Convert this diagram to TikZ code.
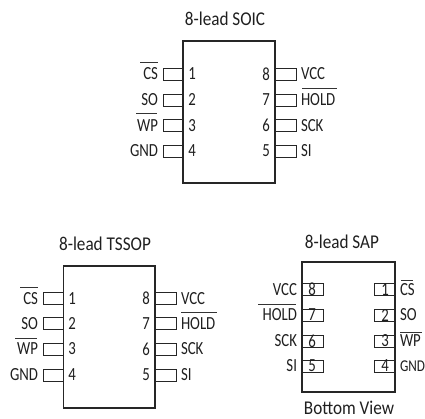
\documentclass[tikz,border=0pt]{standalone}
\usepackage{fontspec}
\setmainfont[FakeStretch=0.88]{Carlito}
\newfontfamily\lblfont[FakeStretch=0.8]{Carlito}
\tikzset{
  every node/.style={inner sep=0pt,outer sep=0pt,text=black!88},
  txt/.style={font=\lblfont\fontsize{18.5}{18.5}\selectfont},
  ttl/.style={font=\fontsize{19.5}{19.5}\selectfont,anchor=center},
  lblR/.style={txt,anchor=east},
  lblL/.style={txt,anchor=west},
  num/.style={txt,anchor=center},
  body/.style={draw=black!85,line width=1.7pt},
  pin/.style={draw=black!85,line width=0.8pt},
  bar/.style={draw=black!80,line width=0.8pt}
}
\begin{document}
\begin{tikzpicture}[x=1pt,y=-1pt]
\path[use as bounding box] (0,0) rectangle (425,419);

% ---------- SOIC ----------
\node[ttl] (soicT) at (225,19) {8-lead SOIC};
\foreach \yy/\n/\l/\m/\r/\k in {74/1/CS/266/VCC/8,100/2/SO/266/HOLD/7,125.5/3/WP/266/SCK/6,151/4/GND/266/SI/5}{
  \draw[pin] (183,\yy-6) -- (163,\yy-6) -- (163,\yy+6) -- (183,\yy+6);
  \draw[pin] (275,\yy-6) -- (296,\yy-6) -- (296,\yy+6) -- (275,\yy+6);
  \node[lblR] (soicL\n) at (158,\yy) {\l};
  \node[num] (soicN\n) at (192,\yy) {\n};
  \node[num] (soicN\k) at (\m,\yy) {\k};
  \node[lblL] (soicR\k) at (301,\yy) {\r};
}
\draw[body] (183,41) rectangle (275,183);
\draw[bar] (140,62.7) -- (158,62.7);
\draw[bar] (136,113.7) -- (157,113.7);
\draw[bar] (302,88.7) -- (337,88.7);

% ---------- TSSOP ----------
\node[ttl] (tssopT) at (105,244) {8-lead TSSOP};
\foreach \yy/\n/\l/\m/\r/\k in {298.5/1/CS/146/VCC/8,323.5/2/SO/146/HOLD/7,349/3/WP/146/SCK/6,375/4/GND/146/SI/5}{
  \draw[pin] (63.5,\yy-6) -- (43,\yy-6) -- (43,\yy+6) -- (63.5,\yy+6);
  \draw[pin] (155,\yy-6) -- (176,\yy-6) -- (176,\yy+6) -- (155,\yy+6);
  \node[lblR] (tssopL\n) at (38,\yy) {\l};
  \node[num] (tssopN\n) at (72,\yy) {\n};
  \node[num] (tssopN\k) at (\m,\yy) {\k};
  \node[lblL] (tssopR\k) at (181,\yy) {\r};
}
\draw[body] (63.5,266) rectangle (155,408);
\draw[bar] (20,287) -- (38,287);
\draw[bar] (15,338) -- (37,338);
\draw[bar] (181,312) -- (217,312);

% ---------- SAP ----------
\node[ttl] (sapT) at (342,242) {8-lead SAP};
\node[ttl] (sapB) at (349,408) {Bottom View};
\foreach \yy/\n/\l/\r/\k/\fs in {289.5/8/VCC/CS/1/18.5,315/7/HOLD/SO/2/18.5,341/6/SCK/WP/3/18.5,366/5/SI/GND/4/16.5}{
  \draw[pin] (302,\yy-6) -- (323,\yy-6) -- (323,\yy+6) -- (302,\yy+6);
  \draw[pin] (395,\yy-6) -- (374,\yy-6) -- (374,\yy+6) -- (395,\yy+6);
  \node[lblR] (sapL\n) at (297,\yy) {\l};
  \node[num] (sapN\n) at (312,\yy) {\n};
  \node[num] (sapN\k) at (385,\yy) {\k};
  \node[lblL,font=\lblfont\fontsize{\fs}{\fs}\selectfont] (sapR\k) at (400,\yy) {\r};
}
\draw[body] (302,262) rectangle (395,392);
\draw[bar] (258,304) -- (296,304);
\draw[bar] (401,280) -- (413,280);
\draw[bar] (400,332) -- (422,332);
\end{tikzpicture}
\end{document}
